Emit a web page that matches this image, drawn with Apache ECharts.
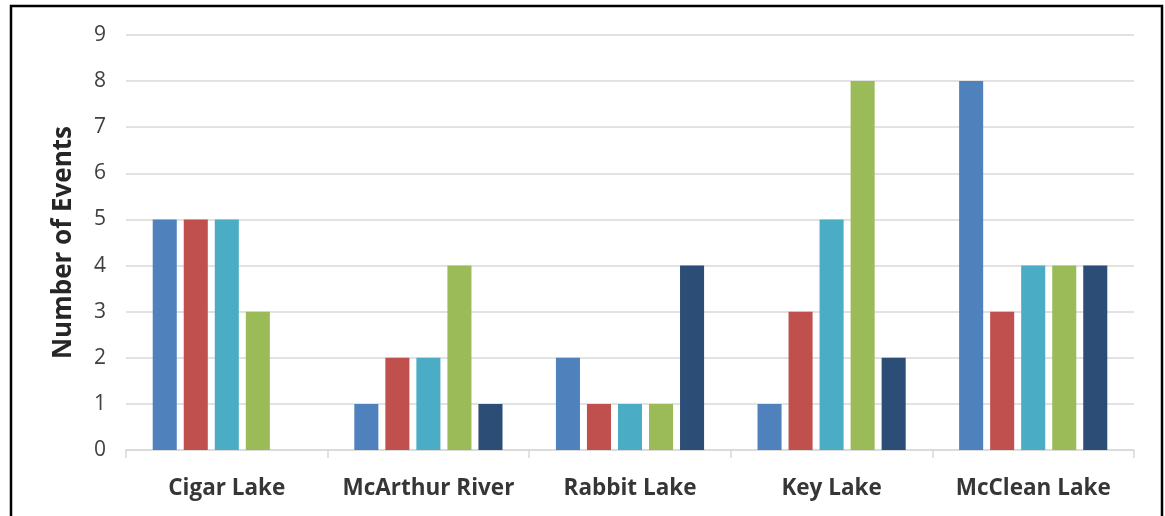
<!DOCTYPE html>
<html>
<head>
<meta charset="utf-8">
<script src="https://cdn.jsdelivr.net/npm/echarts@6/dist/echarts.min.js"></script>
<style>
  html, body { margin: 0; padding: 0; background: #fff; }
  #chart { width: 1165px; height: 516px; }
</style>
</head>
<body>
<div id="chart"></div>
<script>
const categories = ['Cigar Lake', 'McArthur River', 'Rabbit Lake', 'Key Lake', 'McClean Lake'];
const seriesNames = ['Series 1', 'Series 2', 'Series 3', 'Series 4', 'Series 5'];
const series1 = [5, 1, 2, 1, 8];
const series2 = [5, 2, 1, 3, 3];
const series3 = [5, 2, 1, 5, 4];
const series4 = [3, 4, 1, 8, 4];
const series5 = [0, 1, 4, 2, 4];
const yTicks = [0, 1, 2, 3, 4, 5, 6, 7, 8, 9];

const colors = ['#4f81bd', '#c0504d', '#4bacc6', '#9bbb59', '#2c4d75'];
const allValues = [series1, series2, series3, series4, series5];

const chart = echarts.init(document.getElementById('chart'));
chart.setOption({
  animation: false,
  color: colors,
  graphic: [{
    type: 'rect',
    shape: { x: 11, y: 6, width: 1151, height: 530 },
    style: { fill: 'none', stroke: '#000', lineWidth: 2.5 },
    silent: true
  }],
  grid: { left: 126, right: 31, top: 35, bottom: 66 },
  xAxis: {
    type: 'category',
    data: categories,
    axisLine: { lineStyle: { color: '#d9d9d9', width: 1.5 } },
    axisTick: { show: true, interval: 0, length: 8, lineStyle: { color: '#d9d9d9', width: 1.5 } },
    axisLabel: {
      interval: 0,
      margin: 27,
      fontFamily: 'Open Sans',
      fontWeight: 'bold',
      fontSize: 22.5,
      color: '#363636'
    }
  },
  yAxis: {
    type: 'value',
    min: yTicks[0],
    max: yTicks[yTicks.length - 1],
    interval: 1,
    name: 'Number of Events',
    nameLocation: 'middle',
    nameGap: 49,
    nameTextStyle: {
      fontFamily: 'Open Sans',
      fontWeight: 'bold',
      fontSize: 26,
      color: '#262626'
    },
    axisLine: { show: false },
    axisTick: { show: false },
    splitLine: { lineStyle: { color: '#d9d9d9', width: 1.5 } },
    axisLabel: {
      margin: 20,
      fontFamily: 'Open Sans',
      fontSize: 21,
      color: '#404040'
    }
  },
  series: allValues.map((vals, i) => ({
    name: seriesNames[i],
    type: 'bar',
    data: vals,
    barGap: '29%',
    barCategoryGap: '26.5%',
    itemStyle: { color: colors[i] }
  }))
});
</script>
</body>
</html>
